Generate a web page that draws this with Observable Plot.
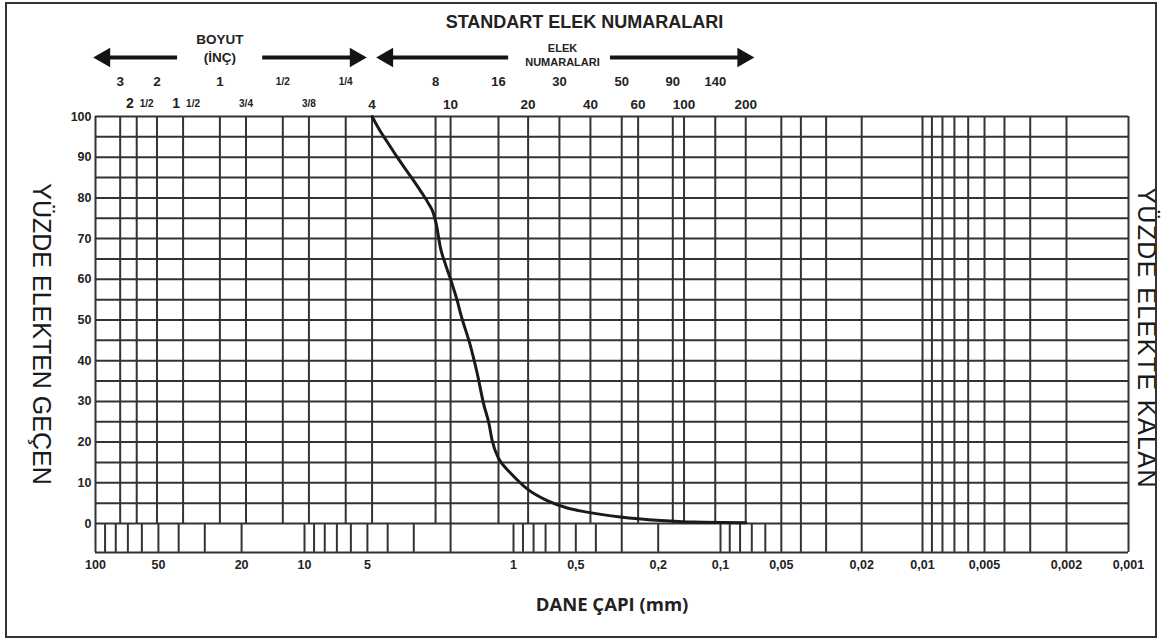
<!DOCTYPE html>
<html>
<head>
<meta charset="utf-8">
<script src="https://cdn.jsdelivr.net/npm/d3@7"></script>
<script src="https://cdn.jsdelivr.net/npm/@observablehq/plot@0.6"></script>
<style>
  html, body { margin: 0; padding: 0; background: #fff; }
  #wrap { position: relative; width: 1162px; height: 641px; overflow: hidden; background: #fff; }
  #frame { position: absolute; left: 5px; top: 2px; width: 1152px; height: 636px; border: 2.5px solid #333; box-sizing: border-box; pointer-events: none; }
  svg { display: block; }
</style>
</head>
<body>
<div id="wrap"><div id="chart"></div><div id="frame"></div></div>
<script>
// ---------------- DATA ----------------
// grading curve: grain diameter (mm) and percent passing
const grainSize = [4.75, 4.33, 4.0, 3.60, 3.30, 3.00, 2.75, 2.55, 2.42, 2.34, 2.24, 2.12, 2.00, 1.86, 1.79, 1.60, 1.49, 1.39, 1.31, 1.265, 1.176, 1.10, 1.034, 0.859, 0.687, 0.550, 0.441, 0.304, 0.195, 0.135, 0.075];
const percentPassing = [100, 96.3, 93.6, 90.0, 87.2, 84.2, 81.3, 78.6, 76.3, 73.5, 67.9, 63.8, 60.0, 54.8, 51.5, 43.3, 36.8, 29.4, 24.5, 20.4, 15.9, 13.9, 12.4, 8.5, 5.6, 3.8, 2.8, 1.6, 0.75, 0.35, 0.2];

// sieve sizes in inches (opening in mm)
const inchTopLabels = ["3", "2", "1", "1/2", "1/4"];
const inchTopSizes = [76.2, 50.8, 25.4, 12.7, 6.35];
const inchMixedWhole = ["2", "1"];
const inchMixedFrac = ["1/2", "1/2"];
const inchMixedSizes = [63.5, 38.1];
const inchBottomLabels = ["3/4", "3/8"];
const inchBottomSizes = [19.05, 9.525];

// standard sieve numbers (opening in mm)
const sieveTopLabels = ["8", "16", "30", "50", "90", "140"];
const sieveTopSizes = [2.36, 1.18, 0.6, 0.3, 0.17, 0.106];
const sieveBottomLabels = ["4", "10", "20", "40", "60", "100", "200"];
const sieveBottomSizes = [4.75, 2.0, 0.85, 0.425, 0.25, 0.15, 0.075];

// fine (hydrometer) grid lines, mm
const fineGridSizes = [0.05, 0.04, 0.03, 0.02, 0.01, 0.009, 0.008, 0.007, 0.006, 0.005, 0.004, 0.003, 0.002, 0.001];

// grain diameter axis
const decades = [100, 10, 1, 0.1, 0.01, 0.001];
const diameterTickValues = [100, 50, 20, 10, 5, 1, 0.5, 0.2, 0.1, 0.05, 0.02, 0.01, 0.005, 0.002, 0.001];
const diameterTickLabels = ["100", "50", "20", "10", "5", "1", "0,5", "0,2", "0,1", "0,05", "0,02", "0,01", "0,005", "0,002", "0,001"];

// percent axis
const percentTicks = [100, 90, 80, 70, 60, 50, 40, 30, 20, 10, 0];
const percentGrid = [0, 5, 10, 15, 20, 25, 30, 35, 40, 45, 50, 55, 60, 65, 70, 75, 80, 85, 90, 95, 100];

// texts
const titleText = "STANDART ELEK NUMARALARI";
const inchGroupText = "BOYUT\n(İNÇ)";
const sieveGroupText = "ELEK\nNUMARALARI";
const xTitle = "DANE ÇAPI (mm)";
const yLeftTitle = "YÜZDE ELEKTEN GEÇEN";
const yRightTitle = "YÜZDE ELEKTE KALAN";

// ---------------- BUILD ----------------
const curve = grainSize.map((s, i) => ({size: s, passing: percentPassing[i]}));
const minorTicks = [decades[0]];
for (const d of decades.slice(1)) for (let k = 9; k >= 1; k--) minorTicks.push(+(k * d).toPrecision(6));
const upperGrid = [decades[0]].concat(inchTopSizes, inchMixedSizes, inchBottomSizes, sieveTopSizes, sieveBottomSizes, fineGridSizes);

const FONT = "'Liberation Sans', Arial, Helvetica, sans-serif";
const INK = "#222";
const GRID = "#333";
const GW = 2;
const stripDepth = 7.1;
const xMax = decades[0], xMin = decades[decades.length - 1];
const txt = {fontFamily: FONT, fill: INK, fontWeight: "bold", lineAnchor: "middle", textAnchor: "middle"};
const head = {fill: "#141414", stroke: "none", symbol: "triangle", r: 7.3, frameAnchor: "top", dy: -59};
const shaft = {y: () => 100, dy: -59, stroke: "#141414", strokeWidth: 4};

const plot = Plot.plot({
  width: 1162,
  height: 641,
  marginTop: 116,
  marginBottom: 118,
  marginLeft: 95,
  marginRight: 34,
  x: {type: "log", domain: decades, range: [95, 304, 513, 720, 922, 1128], axis: null},
  y: {domain: [0, 100], axis: null},
  style: {fontFamily: FONT, background: "transparent", overflow: "visible"},
  marks: [
    // grid
    Plot.ruleY(percentGrid, {y: d => d, x1: () => xMax, x2: () => xMin, stroke: GRID, strokeWidth: GW}),
    Plot.ruleY([-stripDepth], {y: d => d, x1: () => xMax, x2: () => xMin, stroke: GRID, strokeWidth: GW}),
    Plot.ruleX(upperGrid, {x: d => d, y1: () => 0, y2: () => 100, stroke: GRID, strokeWidth: GW}),
    Plot.ruleX(minorTicks, {x: d => d, y1: () => 0, y2: () => -stripDepth, stroke: GRID, strokeWidth: GW}),

    // grading curve
    Plot.line(curve, {x: "size", y: "passing", curve: "monotone-x", stroke: "#1a1a1a", strokeWidth: 3}),

    // percent axis labels
    Plot.text(percentTicks, {...txt, x: () => xMax, y: d => d, text: d => String(d), textAnchor: "end", dx: -4, fontSize: 12.5}),

    // diameter axis labels
    Plot.text(diameterTickLabels, {...txt, x: (d, i) => diameterTickValues[i], frameAnchor: "bottom", dy: 41, fontSize: 12.5}),

    // inch sieve labels
    Plot.text(inchTopLabels, {...txt, x: (d, i) => inchTopSizes[i], frameAnchor: "top", dy: -35, fontSize: (d) => d.includes("/") ? 10 : 13.5}),
    Plot.text(inchMixedWhole, {...txt, x: (d, i) => inchMixedSizes[i], frameAnchor: "top", dy: -13, fontSize: 14, textAnchor: "end", dx: -3}),
    Plot.text(inchMixedFrac, {...txt, x: (d, i) => inchMixedSizes[i], frameAnchor: "top", dy: -13, fontSize: 10, textAnchor: "start", dx: 3}),
    Plot.text(inchBottomLabels, {...txt, x: (d, i) => inchBottomSizes[i], frameAnchor: "top", dy: -13, fontSize: 10}),

    // sieve number labels
    Plot.text(sieveTopLabels, {...txt, x: (d, i) => sieveTopSizes[i], frameAnchor: "top", dy: -35, fontSize: 13}),
    Plot.text(sieveBottomLabels, {...txt, x: (d, i) => sieveBottomSizes[i], frameAnchor: "top", dy: -12, fontSize: 13.5}),

    // header arrows (inch group)
    Plot.ruleY([0], {...shaft, x1: () => 100, x2: () => 44.7, dx: 9}),
    Plot.dot([100], {...head, x: d => d, dx: 9, rotate: -90}),
    Plot.ruleY([0], {...shaft, x1: () => 13.2, x2: () => 4.75, dx: -16.6}),
    Plot.dot([4.75], {...head, x: d => d, dx: -16.6, rotate: 90}),
    // header arrows (sieve group)
    Plot.ruleY([0], {...shaft, x1: () => 4.75, x2: () => 1.25, dx: 15.4}),
    Plot.dot([4.75], {...head, x: d => d, dx: 15.4, rotate: -90}),
    Plot.ruleY([0], {...shaft, x1: () => 0.33, x2: () => 0.075, dx: -2.7}),
    Plot.dot([0.075], {...head, x: d => d, dx: -2.7, rotate: 90}),

    // header texts
    Plot.text([inchGroupText], {...txt, x: () => 25.4, frameAnchor: "top", dy: -69, fontSize: 13.5, lineHeight: 1.3}),
    Plot.text([sieveGroupText], {...txt, frameAnchor: "top-left", dx: 467, dy: -62, fontSize: 11, lineHeight: 1.25}),
    Plot.text([titleText], {...txt, frameAnchor: "top-left", dx: 489, dy: -94, fontSize: 18}),

    // axis titles
    Plot.text([xTitle], {...txt, fontFamily: "'Open Sans', " + FONT, frameAnchor: "bottom", dy: 82, fontSize: 18.5}),
    Plot.text([yLeftTitle], {fontFamily: FONT, fill: "#1a1a1a", lineAnchor: "middle", textAnchor: "middle", frameAnchor: "left", dx: -55, dy: 14, rotate: 90, fontSize: 25}),
    Plot.text([yRightTitle], {fontFamily: FONT, fill: "#1a1a1a", lineAnchor: "middle", textAnchor: "middle", frameAnchor: "right", dx: 17, dy: 18, rotate: 90, fontSize: 25})
  ]
});
d3.select(plot).selectAll("text").filter(function() { return this.textContent === yRightTitle; }).style("letter-spacing", "1.4px");
document.getElementById("chart").appendChild(plot);
</script>
</body>
</html>
